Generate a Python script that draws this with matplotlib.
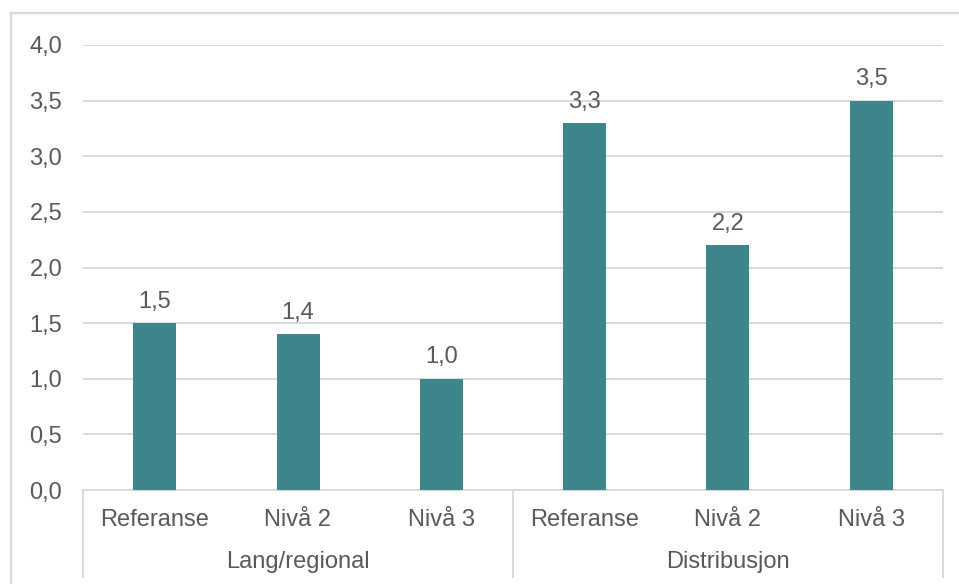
import numpy as np
import matplotlib.pyplot as plt
from matplotlib.patches import Rectangle

plt.rcParams['font.family'] = ['Liberation Sans', 'DejaVu Sans']

CATEGORIES = ['Referanse', 'Nivå 2', 'Nivå 3', 'Referanse', 'Nivå 2', 'Nivå 3']
GROUPS = ['Lang/regional', 'Distribusjon']
GROUP_SIZE = 3
VALUES = [1.5, 1.4, 1.0, 3.3, 2.2, 3.5]
Y_TICKS = [0.0, 0.5, 1.0, 1.5, 2.0, 2.5, 3.0, 3.5, 4.0]

BAR_COLOR = '#3F868A'
TEXT_COLOR = '#595959'
GRID_COLOR = '#D9D9D9'
FS = 17

def fmt(v):
  # norwegian decimal comma
  return f"{v:.1f}".replace('.', ',')

fig = plt.figure(figsize=(9.59, 5.84), dpi=100)
ax = fig.add_axes([83/959, 1 - 490/584, 860/959, 445/584])

x = np.arange(len(VALUES))
bars = ax.bar(x, VALUES, width=0.3, color=BAR_COLOR, zorder=3)

for xi, v in zip(x, VALUES):
  ax.annotate(fmt(v), (xi, v), xytext=(0, 11), textcoords='offset points',
              ha='center', va='baseline', fontsize=FS, color=TEXT_COLOR)

ax.set_xlim(-0.5, len(VALUES) - 0.5)
ax.set_ylim(0, 4.0)
ax.set_yticks(Y_TICKS)
ax.set_yticklabels([fmt(t) for t in Y_TICKS])
ax.tick_params(axis='y', length=0, pad=15, labelsize=FS, labelcolor=TEXT_COLOR)
ax.set_xticks([])
ax.grid(axis='y', color=GRID_COLOR, linewidth=1.4, zorder=0)

for side in ['left', 'right', 'top']:
  ax.spines[side].set_visible(False)
ax.spines['bottom'].set_color(GRID_COLOR)
ax.spines['bottom'].set_linewidth(1.4)

# category labels and group labels under the axis
xt = ax.get_xaxis_transform()
for xi, name in zip(x, CATEGORIES):
  ax.text(xi, -30/445, name, transform=xt, ha='center', va='center',
          fontsize=FS, color=TEXT_COLOR)
for gi, name in enumerate(GROUPS):
  mid = gi * GROUP_SIZE + (GROUP_SIZE - 1) / 2
  ax.text(mid, -72/445, name, transform=xt, ha='center', va='center',
          fontsize=FS, color=TEXT_COLOR)

# group separators
sep_bottom = -88/445
for gi in range(len(GROUPS) + 1):
  sx = gi * GROUP_SIZE - 0.5
  ax.plot([sx, sx], [0, sep_bottom], transform=xt, color=GRID_COLOR,
          linewidth=1.4, clip_on=False, solid_capstyle='butt')

# chart frame
fig.patches.append(Rectangle((11/959, -0.1), 1.0, 1 - 13/584 + 0.1,
                             transform=fig.transFigure, fill=False,
                             edgecolor=GRID_COLOR, linewidth=1.6))

fig.savefig('out.png', dpi=100)
